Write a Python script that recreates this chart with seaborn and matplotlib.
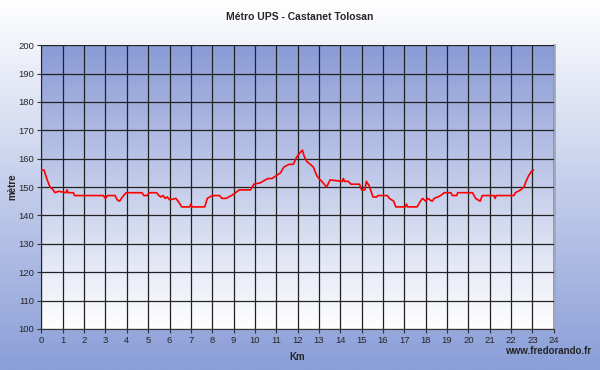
import numpy as np
import pandas as pd
import seaborn as sns
import matplotlib.pyplot as plt
from matplotlib.colors import LinearSegmentedColormap

# Elevation profile (km, metres)
km = [0.0, 0.12, 0.25, 0.4, 0.5, 0.64, 0.8, 1.15, 1.2, 1.25, 1.5, 1.55,
      2.9, 3.0, 3.1, 3.45, 3.55, 3.66, 3.75, 3.85, 3.97, 4.7, 4.8, 4.95,
      5.05, 5.4, 5.5, 5.6, 5.7, 5.8, 5.9, 6.0, 6.3, 6.45, 6.57, 6.95, 7.0,
      7.05, 7.65, 7.77, 8.0, 8.35, 8.45, 8.65, 8.9, 9.1, 9.26, 9.8, 9.95,
      10.26, 10.6, 10.8, 11.0, 11.2, 11.35, 11.6, 11.8, 11.95, 12.1, 12.23,
      12.3, 12.43, 12.6, 12.74, 12.9, 13.0, 13.13, 13.36, 13.52, 14.1,
      14.14, 14.2, 14.37, 14.5, 14.9, 15.0, 15.15, 15.22, 15.35, 15.53,
      15.7, 15.77, 16.2, 16.3, 16.5, 16.6, 17.05, 17.1, 17.15, 17.6, 17.75,
      17.86, 18.0, 18.1, 18.3, 18.4, 18.56, 18.7, 18.87, 19.18, 19.25,
      19.45, 19.5, 20.19, 20.34, 20.55, 20.65, 21.2, 21.25, 21.3, 22.13,
      22.2, 22.45, 22.6, 22.7, 22.82, 22.87, 22.95, 23.05]
altitude = [156, 156, 153, 150, 149.5, 148, 148.5, 148, 149, 148, 148, 147,
            147, 146, 147, 147, 145.5, 145, 146, 147, 148, 148, 147, 147,
            148, 148, 147, 146.5, 147, 146, 146.5, 145.5, 146, 144.5, 143, 143, 144,
            143, 143, 146, 147, 147, 146, 146, 147, 148, 149, 149, 151,
            151.5, 153, 153, 154, 155, 157, 158, 158, 160.5, 162, 163,
            161, 159, 158, 157, 154, 153, 152, 150, 152.5, 152,
            153, 152, 152, 151, 151, 149, 149, 152, 150.5, 146.5,
            146.5, 147, 147, 146, 145, 143, 143, 144, 143, 143, 145,
            146, 145, 146, 145, 146, 146.5, 147, 148, 148, 147,
            147, 148, 148, 146, 145, 147, 147, 146, 147, 147,
            148, 149, 150, 152, 154, 154.5, 155.5, 156]

x_ticks = list(range(0, 25))
y_ticks = list(range(100, 201, 10))

df = pd.DataFrame({"Km": km, "mètre": altitude})

sns.set_style("white")
plt.rcParams["font.family"] = ["Liberation Sans", "DejaVu Sans"]

fig = plt.figure(figsize=(6, 3.7), dpi=100)

# figure background: white at top to blue at bottom
bg = fig.add_axes([0, 0, 1, 1], zorder=-10)
grad = np.linspace(0, 1, 256).reshape(-1, 1)
fig_cmap = LinearSegmentedColormap.from_list("figbg", ["#ffffff", "#8a9ed8"])
bg.imshow(grad, aspect="auto", cmap=fig_cmap, extent=[0, 1, 0, 1])
bg.axis("off")

ax = fig.add_axes([0.069, 0.111, 0.854, 0.767])
plot_cmap = LinearSegmentedColormap.from_list("plotbg", ["#8a9bd6", "#ffffff"])
ax.imshow(grad, aspect="auto", cmap=plot_cmap, extent=[0, 24, 100, 200], zorder=0)

sns.lineplot(data=df, x="Km", y="mètre", color="#ff0000", linewidth=1.2,
             ax=ax, zorder=3, sort=False)

ax.set_xlim(0, 24)
ax.set_ylim(100, 200)
ax.set_xticks(x_ticks)
ax.set_yticks(y_ticks)
ax.tick_params(axis="both", labelsize=6.8, length=3, width=0.8,
               color="#333333", pad=2, direction="out", bottom=True, left=True)
ax.grid(True, color="#222222", linewidth=0.9, zorder=1)
ax.set_axisbelow(False)
for line in ax.get_xgridlines() + ax.get_ygridlines():
    line.set_zorder(1)

ax.spines["left"].set_color("#333333")
ax.spines["bottom"].set_color("#333333")
ax.spines["top"].set_visible(False)
ax.spines["right"].set_color("#a0a8c0")
ax.spines["right"].set_linewidth(2)

ax.set_xlabel("Km", fontsize=7, fontweight="bold", labelpad=5)
ax.set_ylabel("mètre", fontsize=7, fontweight="bold", labelpad=1)
fig.text(0.5, 0.955, "Métro UPS - Castanet Tolosan", ha="center", va="center",
         fontsize=7.5, fontweight="bold")
fig.text(0.985, 0.05, "www.fredorando.fr", ha="right", va="center",
         fontsize=7, fontweight="bold")

fig.savefig("out.png", dpi=100)
